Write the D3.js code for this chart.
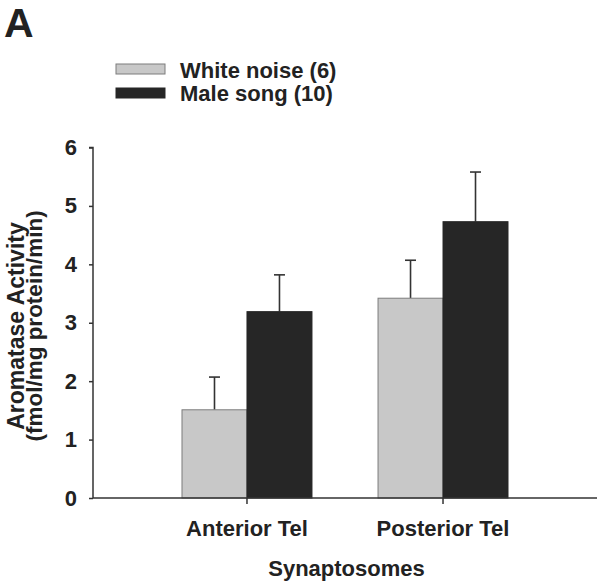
<!DOCTYPE html>
<html>
<head>
<meta charset="utf-8">
<script src="https://cdn.jsdelivr.net/npm/d3@7"></script>
<style>
  html, body { margin: 0; padding: 0; background: #fff; }
  svg { display: block; }
  text { font-family: "Liberation Sans", Arial, Helvetica, sans-serif; font-weight: bold; fill: #222; }
</style>
</head>
<body>
<svg id="chart" width="601" height="585"></svg>
<script>
const categories = ["Anterior Tel", "Posterior Tel"];
const seriesNames = ["White noise (6)", "Male song (10)"];
const whiteNoise = [1.51, 3.42];
const whiteNoiseErr = [0.56, 0.65];
const maleSong = [3.19, 4.73];
const maleSongErr = [0.63, 0.85];
const yTicks = [0, 1, 2, 3, 4, 5, 6];
const seriesColors = ["#c8c8c8", "#262626"];
const seriesStrokes = ["#7c7c7c", "#262626"];

const svg = d3.select("#chart");
const margin = { left: 93, right: 597, top: 147.5, bottom: 498 };
const FS = 22;

const x = d3.scaleBand().domain(categories)
  .range([margin.left, margin.right])
  .paddingInner(0.337).paddingOuter(0.454);
const x1 = d3.scaleBand().domain(seriesNames).range([0, x.bandwidth()]).padding(0);
const y = d3.scaleLinear().domain([0, 6]).range([margin.bottom, margin.top]);

const data = [];
categories.forEach((c, i) => {
  data.push({ cat: c, s: seriesNames[0], v: whiteNoise[i], e: whiteNoiseErr[i], k: 0 });
  data.push({ cat: c, s: seriesNames[1], v: maleSong[i], e: maleSongErr[i], k: 1 });
});

// error bars
const eb = svg.append("g");
data.forEach(d => {
  const cx = x(d.cat) + x1(d.s) + x1.bandwidth() / 2;
  eb.append("line").attr("x1", cx).attr("x2", cx)
    .attr("y1", y(d.v)).attr("y2", y(d.v + d.e))
    .attr("stroke", "#333").attr("stroke-width", 1.6);
  eb.append("line").attr("x1", cx - 5.5).attr("x2", cx + 5.5)
    .attr("y1", y(d.v + d.e)).attr("y2", y(d.v + d.e))
    .attr("stroke", "#333").attr("stroke-width", 1.6);
});

// bars
svg.append("g").selectAll("rect").data(data).join("rect")
  .attr("x", d => x(d.cat) + x1(d.s))
  .attr("y", d => y(d.v))
  .attr("width", x1.bandwidth())
  .attr("height", d => y(0) - y(d.v))
  .attr("fill", d => seriesColors[d.k])
  .attr("stroke", d => seriesStrokes[d.k])
  .attr("stroke-width", 1);

// y axis
const yAxis = svg.append("g").attr("transform", `translate(${margin.left},0)`)
  .call(d3.axisLeft(y).tickValues(yTicks).tickSize(4).tickPadding(12).tickFormat(d3.format("d")));
yAxis.select(".domain").attr("stroke", "#333").attr("stroke-width", 1.5).attr("d", `M-4,${y(6)}H0V${y(0)}`);
yAxis.selectAll(".tick line").attr("stroke", "#333").attr("stroke-width", 1.5);
yAxis.selectAll(".tick text").attr("font-size", FS).attr("font-family", "Liberation Sans, Arial, sans-serif")
  .attr("font-weight", "bold").attr("fill", "#222");

// x axis
const xAxis = svg.append("g").attr("transform", `translate(0,${margin.bottom})`)
  .call(d3.axisBottom(x).tickSize(6).tickPadding(16));
xAxis.select(".domain").attr("stroke", "#333").attr("stroke-width", 1.5).attr("d", `M${margin.left},0H${margin.right}`);
xAxis.selectAll(".tick line").attr("stroke", "#333").attr("stroke-width", 1.5);
xAxis.selectAll(".tick text").attr("font-size", FS).attr("font-family", "Liberation Sans, Arial, sans-serif")
  .attr("font-weight", "bold").attr("fill", "#222");

// axis titles
svg.append("text").attr("x", 346.5).attr("y", 576).attr("text-anchor", "middle")
  .attr("font-size", FS).text("Synaptosomes");
const yl = svg.append("g").attr("transform", "translate(0,326) rotate(-90)");
yl.append("text").attr("x", 0).attr("y", 24).attr("text-anchor", "middle").attr("font-size", 23).text("Aromatase Activity");
yl.append("text").attr("x", 0).attr("y", 42).attr("text-anchor", "middle").attr("font-size", 22.5).text("(fmol/mg protein/min)");

// panel letter
svg.append("text").attr("x", 4).attr("y", 37).attr("font-size", 41).text("A");

// legend
const leg = svg.append("g");
seriesNames.forEach((s, i) => {
  leg.append("rect").attr("x", 116).attr("y", 64 + i * 24).attr("width", 49).attr("height", 10)
    .attr("fill", seriesColors[i]).attr("stroke", seriesStrokes[i]).attr("stroke-width", 1);
  leg.append("text").attr("x", 180).attr("y", 77.5 + i * 23.5).attr("font-size", FS).text(s);
});
</script>
</body>
</html>
